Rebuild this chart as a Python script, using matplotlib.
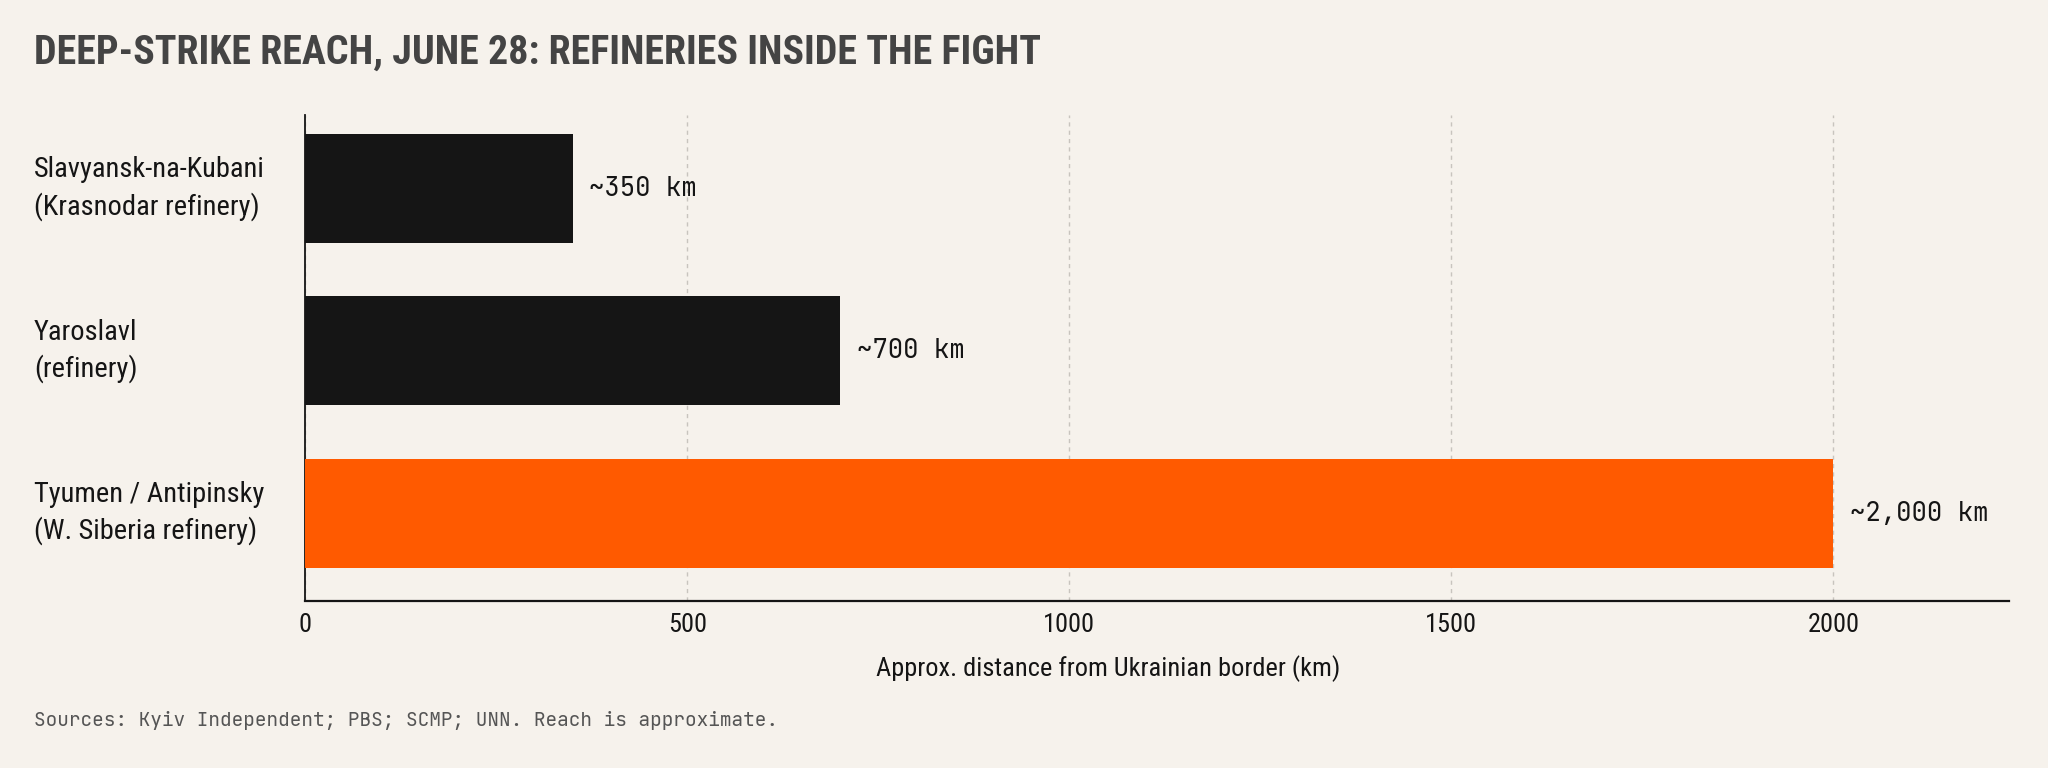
import matplotlib
matplotlib.use("Agg")
import matplotlib.pyplot as plt

# datos
sites = ["Slavyansk-na-Kubani\n(Krasnodar refinery)",
         "Yaroslavl\n(refinery)",
         "Tyumen / Antipinsky\n(W. Siberia refinery)"]
distance_km = [350, 700, 2000]
value_labels = ["~350 km", "~700 km", "~2,000 km"]
bar_colors = ["#151515", "#151515", "#ff5a00"]
xticks = [0, 500, 1000, 1500, 2000]

cond = ["Roboto Condensed", "DejaVu Sans"]
mono = ["JetBrains Mono", "DejaVu Sans Mono"]

bg = "#f6f2ec"
fig = plt.figure(figsize=(20.48, 7.68), dpi=100, facecolor=bg)
ax = fig.add_axes([0.149, 0.2175, 0.832, 0.6325], facecolor=bg)

y = list(range(len(sites)))
ax.barh(y, distance_km, height=0.67, color=bar_colors, zorder=3)
ax.set_ylim(2.54, -0.45)
ax.set_xlim(0, 2230)

# etiquetas de valor
for yi, v, lab in zip(y, distance_km, value_labels):
    ax.text(v + 22, yi, lab, va="center", ha="left", fontsize=18.5,
            family=mono, color="#151515")

ax.set_xticks(xticks)
ax.set_xticklabels([str(t) for t in xticks], family=cond, fontsize=19, color="#151515")
ax.tick_params(axis="x", length=0, pad=9)
ax.set_yticks([])

# etiquetas de categorias a la izquierda
for yi, s in zip(y, sites):
    yfig = fig.transFigure.inverted().transform(ax.transData.transform((0, yi)))[1]
    fig.text(0.0166, yfig, s, ha="left", va="center", family=cond, fontsize=20.5,
             color="#151515", linespacing=1.39)

ax.grid(axis="x", color="#c8c4be", linestyle=(0, (3, 3)), linewidth=1, zorder=0)
for side in ["top", "right"]:
    ax.spines[side].set_visible(False)
ax.spines["left"].set_color("#151515")
ax.spines["bottom"].set_color("#151515")
ax.spines["left"].set_linewidth(1.3)
ax.spines["bottom"].set_linewidth(1.6)

ax.set_xlabel("Approx. distance from Ukrainian border (km)", family=cond,
              fontsize=19, color="#151515")
ax.xaxis.set_label_coords(0.471, -0.112)

fig.text(0.0166, 0.917, "DEEP-STRIKE REACH, JUNE 28: REFINERIES INSIDE THE FIGHT",
         family=cond, fontweight="bold", fontsize=28.8, color="#444444",
         ha="left", va="baseline")
fig.text(0.0166, 0.0625, "Sources: Kyiv Independent; PBS; SCMP; UNN. Reach is approximate.",
         family=mono, fontsize=14, color="#555555", ha="left", va="center")

fig.savefig("out.png", dpi=100, facecolor=bg)
